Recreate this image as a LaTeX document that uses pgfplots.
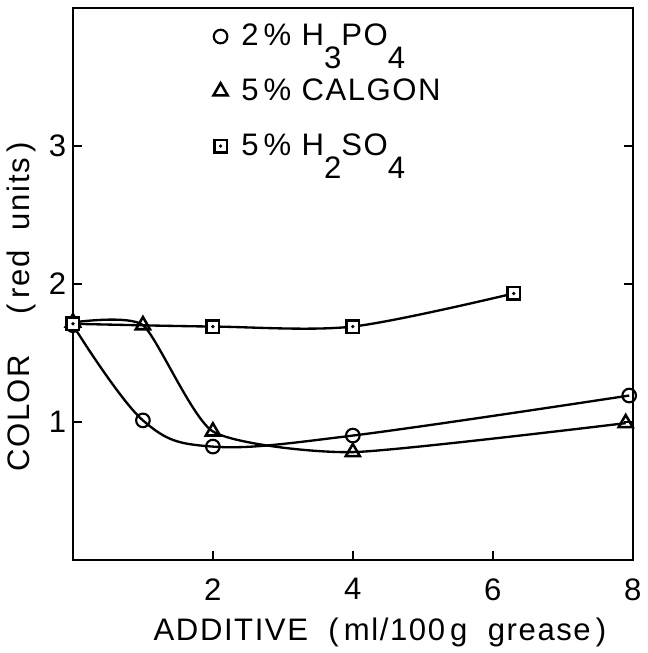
\documentclass[border=0pt]{standalone}
\usepackage{fontspec}
\setmainfont{Liberation Sans}
\usepackage{pgfplots}
\pgfplotsset{compat=1.18}

\pgfdeclareplotmark{sqdot}{%
  \pgfpathrectangle{\pgfpoint{-\pgfplotmarksize}{-\pgfplotmarksize}}{\pgfpoint{2\pgfplotmarksize}{2\pgfplotmarksize}}%
  \pgfusepathqfillstroke
  \begin{pgfscope}
  \pgfpathcircle{\pgfpointorigin}{0.3\pgfplotmarksize}%
  \pgfsetfillcolor{black}%
  \pgfusepathqfill
  \end{pgfscope}}

\newcommand{\sub}[1]{\raisebox{-1.4ex}{#1}}
\newcommand{\lbl}{\fontsize{16}{19}\selectfont\addfontfeature{LetterSpace=5}}

\begin{document}
\begin{tikzpicture}
\begin{axis}[
  scale only axis,
  width=288pt, height=284pt,
  xmin=0, xmax=8, ymin=0, ymax=4,
  xtick={2,4,6,8}, ytick={1,2,3},
  xtick pos=bottom, ytick pos=both,
  tick align=inside,
  major tick length=4.5pt,
  axis line style={line width=1.1pt},
  every tick/.style={line width=1pt, black},
  /pgf/number format/assume math mode=true,
  tick label style={font=\fontsize{16}{19}\selectfont},
  xticklabel style={yshift=-6pt},
  xlabel={ADDITIVE\ \ (\,ml/100\,g\ \ grease\,)},
  ylabel={COLOR\ \ \ \ (\,red\ \ units\,)},
  label style={font=\lbl},
  xlabel style={yshift=-2pt, xshift=14pt},
  ylabel style={yshift=0pt, xshift=-12pt},
  legend style={draw=none, fill=none, at={(0.24,0.985)}, anchor=north west,
                font=\lbl, row sep=11.5pt,
                legend cell align=left},
  legend image code/.code={\draw[#1] plot coordinates {(0.2cm,0cm)};},
]
\addplot[black, line width=1.2pt, smooth, tension=0.6, mark=o, mark size=3.5pt,
  mark options={fill=white, line width=1.1pt}] coordinates {
  (0,1.70) (1,1.01) (2,0.82) (4,0.90) (7.95,1.19)
};
\addlegendentry{\hspace{5pt}2\,\% H\sub{3}PO\sub{4}}
\addplot[black, line width=1.2pt, smooth, tension=0.35, mark=triangle, mark size=4.2pt,
  mark options={fill=white, line width=1.3pt}] coordinates {
  (0,1.72) (1,1.70) (2,0.93) (4,0.78) (7.9,0.99)
};
\addlegendentry{\hspace{5pt}5\,\% CALGON}
\addplot[black, line width=1.2pt, smooth, tension=0.5, mark=sqdot, mark size=3.2pt,
  mark options={fill=white, line width=1.3pt}] coordinates {
  (0,1.71) (2,1.69) (4,1.69) (6.3,1.93)
};
\addlegendentry{\hspace{5pt}5\,\% H\sub{2}SO\sub{4}}
\end{axis}
\path ([yshift=4pt]current axis.north);
\end{tikzpicture}
\end{document}
